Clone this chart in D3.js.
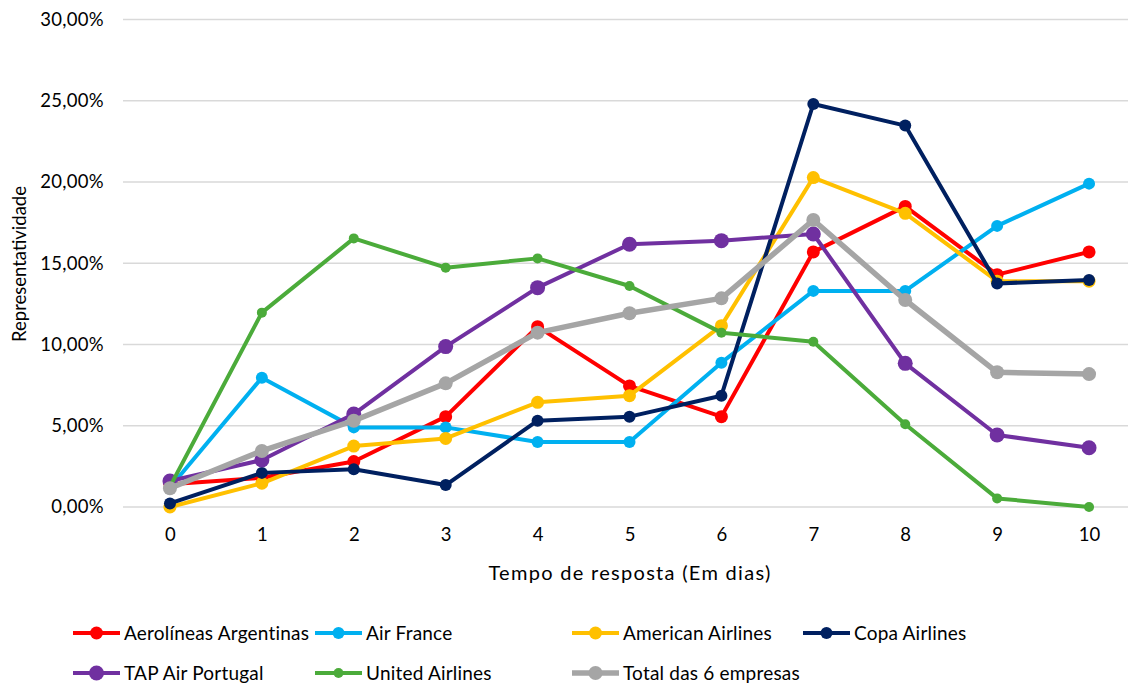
<!DOCTYPE html>
<html>
<head>
<meta charset="utf-8">
<script src="https://cdn.jsdelivr.net/npm/d3@7"></script>
<style>
  body { margin: 0; background: #fff; }
  text { font-family: Lato, "Open Sans", sans-serif; fill: #000; }
</style>
</head>
<body>
<div id="chart"></div>
<script>
// dias de resposta
var days = ["0", "1", "2", "3", "4", "5", "6", "7", "8", "9", "10"]
var yTicks = [0, 5, 10, 15, 20, 25, 30]

var seriesNames = ["Aerolíneas Argentinas", "Air France", "American Airlines", "Copa Airlines",
                   "TAP Air Portugal", "United Airlines", "Total das 6 empresas"]

var aerolineas = [1.4, 1.8, 2.8, 5.56, 11.1, 7.45, 5.56, 15.7, 18.5, 14.3, 15.7]
var airFrance  = [1.2, 7.96, 4.9, 4.9, 4.0, 4.0, 8.88, 13.3, 13.3, 17.3, 19.9]
var american   = [0.0, 1.46, 3.75, 4.22, 6.44, 6.85, 11.16, 20.27, 18.07, 13.9, 13.9]
var copa       = [0.22, 2.1, 2.32, 1.35, 5.31, 5.56, 6.85, 24.8, 23.47, 13.76, 13.97]
var tap        = [1.6, 2.89, 5.72, 9.87, 13.5, 16.17, 16.39, 16.8, 8.84, 4.43, 3.65]
var united     = [1.25, 11.96, 16.53, 14.73, 15.3, 13.6, 10.73, 10.17, 5.09, 0.53, 0.0]
var total      = [1.15, 3.45, 5.31, 7.61, 10.73, 11.92, 12.84, 17.66, 12.74, 8.29, 8.18]

var allValues = [aerolineas, airFrance, american, copa, tap, united, total]
var colors = ["#FF0000", "#00B0F0", "#FFC000", "#002060", "#7030A0", "#4BAB3A", "#A5A5A5"]
var markerR = [6.5, 6, 6.5, 6, 7.5, 5, 7]
var lineW = [4, 4, 4, 4, 4, 4, 5.5]

var width = 1128, height = 686
var margin = {top: 19.5, right: -7, bottom: 179, left: 124}
var plotW = width - margin.left - margin.right,
    plotH = height - margin.top - margin.bottom

var svg = d3.select("#chart").append("svg")
    .attr("width", width)
    .attr("height", height)

var g = svg.append("g")
    .attr("transform", "translate(" + margin.left + "," + margin.top + ")")

var x = d3.scalePoint().domain(days).range([0, plotW]).padding(0.5)
var y = d3.scaleLinear().domain([0, 30]).range([plotH, 0])

// grid
g.selectAll(".grid").data(yTicks).enter().append("line")
    .attr("x1", -1).attr("x2", plotW)
    .attr("y1", d => y(d)).attr("y2", d => y(d))
    .attr("stroke", "#D9D9D9").attr("stroke-width", 1.3)

var yAxis = g.append("g")
    .call(d3.axisLeft(y).tickValues(yTicks).tickSize(0).tickPadding(20)
          .tickFormat(d => d3.format(".2f")(d).replace(".", ",") + "%"))
yAxis.select(".domain").remove()
yAxis.selectAll("text").style("font-size", "18.5px").style("letter-spacing", "0.3px").attr("fill", "#000")

var xAxis = g.append("g")
    .attr("transform", "translate(0," + plotH + ")")
    .call(d3.axisBottom(x).tickSize(0).tickPadding(21))
xAxis.select(".domain").remove()
xAxis.selectAll("text").style("font-size", "18.5px").attr("fill", "#000")

// titulos
svg.append("text")
    .attr("x", 630).attr("y", 580)
    .attr("text-anchor", "middle")
    .style("font-size", "20px")
    .style("letter-spacing", "1.3px")
    .text("Tempo de resposta (Em dias)")

svg.append("text")
    .attr("transform", "translate(26,264) rotate(-90)")
    .attr("text-anchor", "middle")
    .style("font-size", "18.5px")
    .text("Representatividade")

var line = d3.line()
    .x((d, i) => x(days[i]))
    .y(d => y(d))

allValues.forEach(function(vals, s) {
    var sg = g.append("g")
    sg.append("path")
        .datum(vals)
        .attr("d", line)
        .attr("fill", "none")
        .attr("stroke", colors[s])
        .attr("stroke-width", lineW[s])
        .attr("stroke-linejoin", "round")
    sg.selectAll("circle").data(vals).enter().append("circle")
        .attr("cx", (d, i) => x(days[i]))
        .attr("cy", d => y(d))
        .attr("r", markerR[s])
        .attr("fill", colors[s])
})

// legenda
var legendPos = [[73, 633], [315, 633], [572, 633], [803, 633],
                 [73, 673], [315, 673], [572, 673]]

var legend = svg.append("g")
seriesNames.forEach(function(name, s) {
    var lg = legend.append("g")
        .attr("transform", "translate(" + legendPos[s][0] + "," + legendPos[s][1] + ")")
    lg.append("line")
        .attr("x1", 0).attr("x2", 47)
        .attr("stroke", colors[s]).attr("stroke-width", lineW[s])
    lg.append("circle")
        .attr("cx", 23.5).attr("r", markerR[s])
        .attr("fill", colors[s])
    lg.append("text")
        .attr("x", 51).attr("dy", "0.35em")
        .style("font-size", "19px")
        .style("letter-spacing", "0.2px")
        .text(name)
})
</script>
</body>
</html>
